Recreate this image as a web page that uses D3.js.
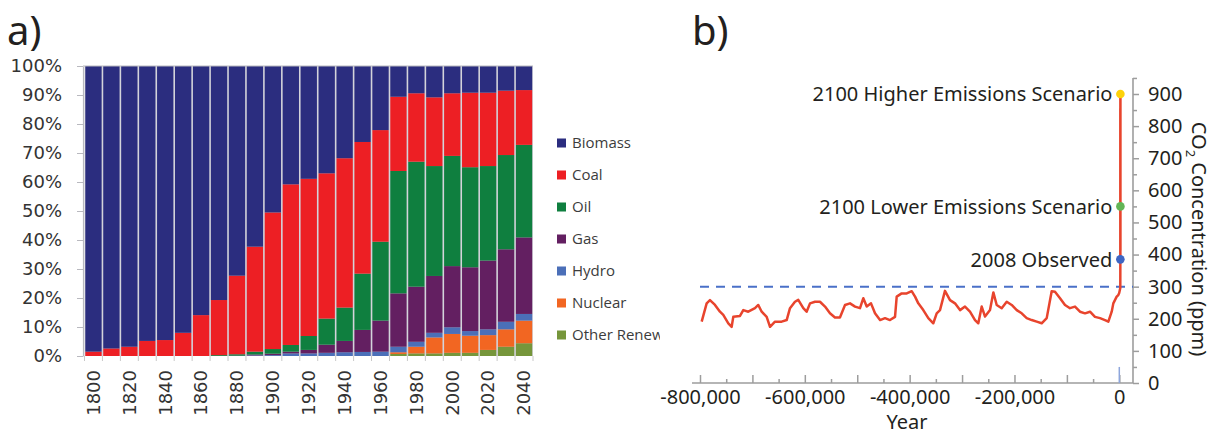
<!DOCTYPE html>
<html>
<head>
<meta charset="utf-8">
<script src="https://cdn.jsdelivr.net/npm/d3@7"></script>
<style>
  body { margin: 0; background: #fff; }
  svg { display: block; }
</style>
</head>
<body>
<div id="chart"></div>
<script>
// ---- panel a) : share of world energy by source (percent) ----
const years = [1800, 1810, 1820, 1830, 1840, 1850, 1860, 1870, 1880, 1890, 1900, 1910, 1920,
               1930, 1940, 1950, 1960, 1970, 1980, 1990, 2000, 2010, 2020, 2030, 2040];
const biomass = [98.5, 97.4, 96.8, 94.8, 94.5, 92.0, 85.9, 80.7, 72.3, 62.3, 50.5, 40.8, 38.9,
                 37.0, 31.8, 26.2, 22.1, 10.6, 9.4, 10.8, 9.4, 9.2, 9.2, 8.5, 8.3];
const coal = [1.5, 2.6, 3.2, 5.2, 5.5, 8.0, 14.1, 19.0, 27.1, 36.2, 47.1, 55.4, 54.2,
              50.1, 51.5, 45.4, 38.5, 25.6, 23.6, 23.7, 21.6, 25.7, 25.3, 22.2, 18.9];
const oil = [0, 0, 0, 0, 0, 0, 0, 0.3, 0.5, 1.0, 1.6, 2.3, 4.8,
             9.0, 11.5, 19.4, 27.2, 42.2, 43.1, 37.9, 38.0, 34.5, 32.6, 32.5, 31.9];
const gas = [0, 0, 0, 0, 0, 0, 0, 0, 0.1, 0.3, 0.5, 0.6, 1.2,
             2.8, 3.9, 7.6, 10.7, 18.4, 19.0, 19.6, 21.1, 22.0, 23.7, 25.0, 26.4];
const hydro = [0, 0, 0, 0, 0, 0, 0, 0, 0, 0.2, 0.3, 0.9, 0.9,
               1.1, 1.3, 1.4, 1.5, 1.9, 1.7, 1.6, 2.3, 1.6, 2.0, 2.6, 2.3];
const nuclear = [0, 0, 0, 0, 0, 0, 0, 0, 0, 0, 0, 0, 0,
                 0, 0, 0, 0, 0.6, 2.3, 5.5, 6.5, 5.9, 5.1, 6.0, 7.8];
const otherRenew = [0, 0, 0, 0, 0, 0, 0, 0, 0, 0, 0, 0, 0,
                    0, 0, 0, 0, 0.7, 0.9, 0.9, 1.1, 1.1, 2.1, 3.2, 4.4];
const yTicksA = [0, 10, 20, 30, 40, 50, 60, 70, 80, 90, 100];

const sourceNames = ["Biomass", "Coal", "Oil", "Gas", "Hydro", "Nuclear", "Other Renew"];
const sourceKeys = ["biomass", "coal", "oil", "gas", "hydro", "nuclear", "otherRenew"];
const sourceColors = ["#2b2d7f", "#ed1f24", "#0f7f3f", "#631f61", "#4b6fb8", "#f26622", "#76963b"];

// ---- panel b) : CO2 over 800,000 years (ppm) ----
const co2Years = [-796800, -787300, -781000, -771400, -761900, -755600, -746000, -739600, -736500,
  -723700, -717400, -707900, -695100, -688800, -682300, -672800, -666400, -656900, -644200,
  -634600, -628300, -618800, -612500, -602900, -596600, -590100, -580600, -571100, -561500,
  -552000, -542500, -533000, -523300, -513800, -504200, -494700, -488400, -481900, -473700,
  -466100, -456500, -447000, -437500, -427900, -424700, -415200, -405600, -396100, -389700,
  -383500, -374000, -364400, -354900, -348400, -342100, -332600, -323000, -313500, -303900,
  -294400, -284900, -275300, -269000, -262500, -256200, -246700, -240300, -233900, -224400,
  -214800, -205300, -195700, -186200, -176700, -167100, -157600, -148100, -138500, -129000,
  -122700, -113100, -103600, -94100, -84500, -75000, -65400, -55900, -46400, -36800, -27300,
  -20900, -14500, -11400, -5000, -1900, -200, 1900, 2008];
const co2Ppm = [191, 248, 258, 243, 222, 212, 186, 175, 206,
  209, 227, 222, 233, 243, 222, 206, 175, 191, 191,
  196, 233, 253, 259, 233, 222, 248, 253, 253, 238,
  217, 204, 204, 243, 248, 238, 233, 264, 238, 248,
  217, 196, 202, 196, 206, 269, 279, 279, 286, 269,
  248, 227, 202, 186, 217, 227, 287, 258, 248, 227,
  238, 222, 196, 186, 238, 207, 227, 282, 243, 233,
  253, 243, 227, 217, 202, 196, 191, 186, 202, 286,
  284, 264, 243, 233, 238, 222, 217, 222, 206, 202, 196,
  191, 222, 248, 269, 274, 280, 296, 385];
const scenarioLabels = ["2100 Higher Emissions Scenario", "2100 Lower Emissions Scenario", "2008 Observed"];
const scenarioYears = [2100, 2100, 2008];
const scenarioPpm = [900, 550, 385];
const scenarioColors = ["#fdd20a", "#62b556", "#3d66c4"];
const preindustrialMax = 300;
const yearTicks = [-800000, -600000, -400000, -200000, 0];
const ppmTicks = [0, 100, 200, 300, 400, 500, 600, 700, 800, 900];

const W = 1217, H = 434;
const svg = d3.select("#chart").append("svg").attr("width", W).attr("height", H);
svg.append("rect").attr("width", W).attr("height", H).attr("fill", "#fff");

const txt = "#231f20";

// ================= panel a =================
const table = years.map((yr, i) => ({
  year: yr, biomass: biomass[i], coal: coal[i], oil: oil[i], gas: gas[i],
  hydro: hydro[i], nuclear: nuclear[i], otherRenew: otherRenew[i]
}));
const stackKeys = sourceKeys.slice().reverse(); // bottom -> top
const series = d3.stack().keys(stackKeys)(table);
const colorOf = d3.scaleOrdinal().domain(sourceKeys).range(sourceColors);

const xA = d3.scaleBand().domain(years).range([84.5, 533]).padding(0);
const yA = d3.scaleLinear().domain([0, 100]).range([356, 66]);
const bw = xA.bandwidth();

const gA = svg.append("g");

// light separators show through the gaps between bars
gA.append("rect")
  .attr("x", xA.range()[0]).attr("y", yA(100))
  .attr("width", xA.range()[1] - xA.range()[0]).attr("height", yA(0) - yA(100))
  .attr("fill", "#d3d3da");

gA.selectAll("g.layer")
  .data(series)
  .enter().append("g")
  .attr("class", "layer")
  .attr("fill", d => colorOf(d.key))
  .selectAll("rect")
  .data(d => d)
  .enter().append("rect")
  .attr("x", d => xA(d.data.year) + 0.8)
  .attr("width", bw - 1.6)
  .attr("y", d => yA(d[1]))
  .attr("height", d => Math.max(0, yA(d[0]) - yA(d[1])));

// top line at 100%
gA.append("line")
  .attr("x1", 83).attr("x2", xA.range()[1])
  .attr("y1", yA(100)).attr("y2", yA(100))
  .attr("stroke", "#b9b9bf").attr("stroke-width", 1.2);

// y axis
const axA = gA.append("g")
  .attr("transform", "translate(83,0)")
  .call(d3.axisLeft(yA).tickValues(yTicksA).tickFormat(d => d + "%")
          .tickSize(6).tickPadding(15).tickSizeOuter(0));
axA.select(".domain").attr("stroke", "#b9b9bf").attr("stroke-width", 1.2);
axA.selectAll(".tick line").attr("stroke", "#b9b9bf");
axA.selectAll("text")
  .attr("font-family", "DejaVu Sans").attr("font-size", 18).attr("fill", "#333");

// x ticks at bar boundaries
const bounds = years.map(y => xA(y)).concat([xA.range()[1]]);
gA.selectAll("line.xtick")
  .data(bounds)
  .enter().append("line")
  .attr("class", "xtick")
  .attr("x1", d => d).attr("x2", d => d)
  .attr("y1", yA(0)).attr("y2", yA(0) + 5)
  .attr("stroke", "#c8c8c8");

gA.selectAll("text.xlab")
  .data(years.filter((y, i) => i % 2 === 0))
  .enter().append("text")
  .attr("class", "xlab")
  .attr("transform", d => "translate(" + (xA(d) + bw / 2) + ",370) rotate(-90)")
  .attr("text-anchor", "end")
  .attr("dy", "0.35em")
  .attr("font-family", "DejaVu Sans").attr("font-size", 18).attr("fill", "#333")
  .text(d => d);

// legend (clipped like the original)
svg.append("clipPath").attr("id", "legclip")
  .append("rect").attr("x", 540).attr("y", 100).attr("width", 120).attr("height", 260);
const leg = svg.append("g").attr("clip-path", "url(#legclip)");
const legRows = leg.selectAll("g")
  .data(sourceNames)
  .enter().append("g")
  .attr("transform", (d, i) => "translate(557," + (143 + i * 32) + ")");
legRows.append("rect")
  .attr("x", 0).attr("y", -4.5).attr("width", 9).attr("height", 9)
  .attr("fill", (d, i) => sourceColors[i]);
legRows.append("text")
  .attr("x", 15).attr("dy", "0.35em")
  .attr("font-family", "Open Sans").attr("font-size", 15).attr("fill", "#3c3c3c")
  .text(d => d);

svg.append("text").attr("x", 7).attr("y", 45)
  .attr("font-family", "Noto Sans").attr("font-size", 40).attr("fill", txt).text("a)");

// ================= panel b =================
const xB = d3.scaleLinear().domain([-800000, 0]).range([700, 1119.3]);
const yB = d3.scaleLinear().domain([0, 900]).range([383, 94]);
const axisX = 1133;
const axisCol = "#9d9d9d";
const gB = svg.append("g");

// axis lines
gB.append("line").attr("x1", 692).attr("x2", axisX)
  .attr("y1", yB(0)).attr("y2", yB(0))
  .attr("stroke", axisCol).attr("stroke-width", 1.6);
gB.append("line").attr("x1", axisX).attr("x2", axisX)
  .attr("y1", yB(0)).attr("y2", yB(950))
  .attr("stroke", axisCol).attr("stroke-width", 1.6);

const fmtYear = d => (d < 0 ? "-" : "") + d3.format(",")(Math.abs(d));

const xMaj = gB.append("g").attr("transform", "translate(0," + yB(0) + ")")
  .call(d3.axisBottom(xB).tickValues(d3.range(-800000, 1, 100000))
          .tickFormat(d => yearTicks.includes(d) ? fmtYear(d) : "")
          .tickSize(-8).tickPadding(7).tickSizeOuter(0));
const xMin = gB.append("g").attr("transform", "translate(0," + yB(0) + ")")
  .call(d3.axisBottom(xB).tickValues(d3.range(-750000, 0, 100000))
          .tickFormat("").tickSize(-4).tickSizeOuter(0));

const yMaj = gB.append("g").attr("transform", "translate(" + axisX + ",0)")
  .call(d3.axisRight(yB).tickValues(ppmTicks).tickSize(6).tickPadding(9).tickSizeOuter(0));
const yMin = gB.append("g").attr("transform", "translate(" + axisX + ",0)")
  .call(d3.axisRight(yB).tickValues(d3.range(50, 951, 100)).tickFormat("").tickSize(4).tickSizeOuter(0));

[xMaj, xMin, yMaj, yMin].forEach(a => {
  a.select(".domain").remove();
  a.selectAll(".tick line").attr("stroke", axisCol).attr("stroke-width", 1.5);
  a.selectAll("text").attr("font-family", "Noto Sans").attr("font-size", 20).attr("fill", txt);
});

// axis titles
svg.append("text").attr("x", 907).attr("y", 429)
  .attr("text-anchor", "middle")
  .attr("font-family", "Noto Sans").attr("font-size", 20).attr("fill", txt)
  .text("Year");

const yTitle = svg.append("text")
  .attr("transform", "translate(1192,239) rotate(90)")
  .attr("text-anchor", "middle")
  .attr("font-family", "Noto Sans").attr("font-size", 20).attr("fill", txt);
yTitle.append("tspan").text("CO");
yTitle.append("tspan").attr("dy", 6).attr("font-size", 13).text("2");
yTitle.append("tspan").attr("dy", -6).text(" Concentration (ppm)");

// pre-industrial maximum (dashed)
gB.append("line")
  .attr("x1", xB(-800000)).attr("x2", axisX)
  .attr("y1", yB(preindustrialMax)).attr("y2", yB(preindustrialMax))
  .attr("stroke", "#4a70c8").attr("stroke-width", 2)
  .attr("stroke-dasharray", "9,7");

// small marker at present
gB.append("line")
  .attr("x1", xB(0)).attr("x2", xB(0))
  .attr("y1", yB(0)).attr("y2", yB(50))
  .attr("stroke", "#8ea6dc").attr("stroke-width", 1.5);

// CO2 record
const co2 = co2Years.map((y, i) => [y, co2Ppm[i]]);
const line = d3.line().x(d => xB(d[0])).y(d => yB(d[1]));
gB.append("path")
  .datum(co2)
  .attr("d", line)
  .attr("fill", "none")
  .attr("stroke", "#e8442d").attr("stroke-width", 2.5)
  .attr("stroke-linejoin", "round");

// projection up to the higher scenario
gB.append("path")
  .datum([[scenarioYears[2], scenarioPpm[2]], [scenarioYears[0], scenarioPpm[0]]])
  .attr("d", line)
  .attr("fill", "none")
  .attr("stroke", "#e8442d").attr("stroke-width", 2.6);

const pts = scenarioLabels.map((l, i) => ({ label: l, year: scenarioYears[i], ppm: scenarioPpm[i], color: scenarioColors[i] }));
gB.selectAll("circle.pt")
  .data(pts)
  .enter().append("circle")
  .attr("class", "pt")
  .attr("cx", d => xB(d.year)).attr("cy", d => yB(d.ppm))
  .attr("r", 4.3)
  .attr("fill", d => d.color);

gB.selectAll("text.pl")
  .data(pts)
  .enter().append("text")
  .attr("class", "pl")
  .attr("x", d => xB(d.year) - 8)
  .attr("y", d => yB(d.ppm))
  .attr("dy", "0.36em")
  .attr("text-anchor", "end")
  .attr("font-family", "Noto Sans").attr("font-size", 20).attr("fill", txt)
  .text(d => d.label);

svg.append("text").attr("x", 692).attr("y", 45)
  .attr("font-family", "Noto Sans").attr("font-size", 40).attr("fill", txt).text("b)");
</script>
</body>
</html>
